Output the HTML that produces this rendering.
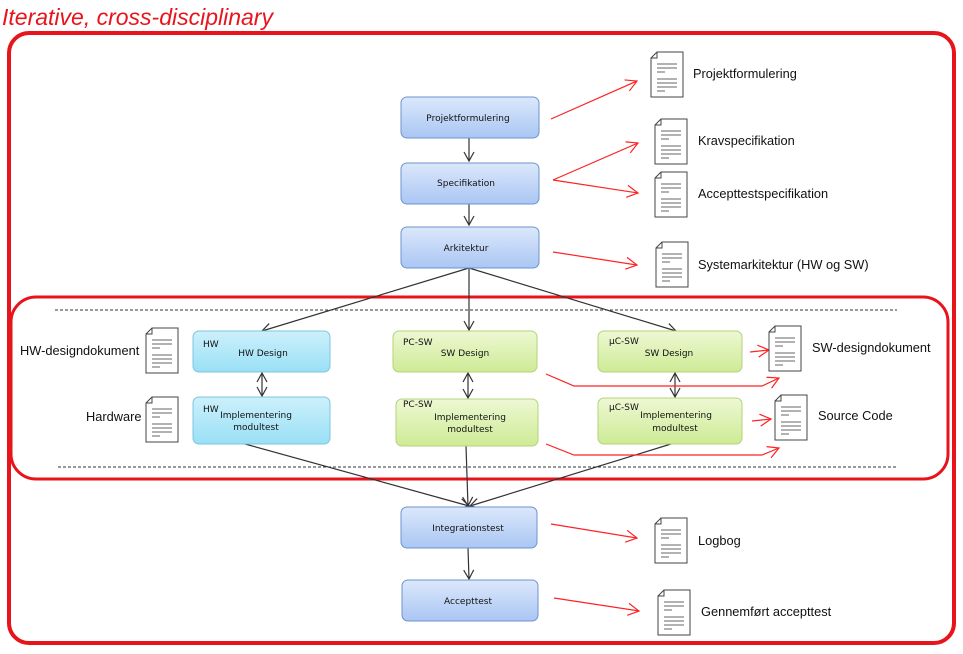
<!DOCTYPE html>
<html><head><meta charset="utf-8"><style>
html,body{margin:0;padding:0;background:#fff;width:963px;height:654px;overflow:hidden}
svg{display:block}
.bt{font-family:"DejaVu Sans","Liberation Sans",sans-serif;font-size:9px;fill:#111;font-weight:500}
.lt{font-family:"Liberation Sans",sans-serif;font-size:12.8px;fill:#111}
</style></head><body>
<svg width="963" height="654" viewBox="0 0 963 654" xmlns="http://www.w3.org/2000/svg">
<defs>
<linearGradient id="gb" x1="0" y1="0" x2="0" y2="1"><stop offset="0" stop-color="#dce8fb"/><stop offset="1" stop-color="#a9c6f3"/></linearGradient>
<linearGradient id="gc" x1="0" y1="0" x2="0" y2="1"><stop offset="0" stop-color="#cdf0fb"/><stop offset="1" stop-color="#99e0f6"/></linearGradient>
<linearGradient id="gg" x1="0" y1="0" x2="0" y2="1"><stop offset="0" stop-color="#eef8d4"/><stop offset="1" stop-color="#cdeb95"/></linearGradient>
<g id="doc">
<path d="M6,0 H32 V45 H0 V6 Z" fill="#fff" stroke="#444" stroke-width="1"/>
<path d="M0,6 H6 V0" fill="none" stroke="#444" stroke-width="1"/>
<g stroke="#666" stroke-width="1">
<line x1="6" y1="12" x2="26" y2="12"/><line x1="6" y1="16" x2="26" y2="16"/><line x1="6" y1="20" x2="14" y2="20"/>
<line x1="6" y1="27" x2="26" y2="27"/><line x1="6" y1="31" x2="26" y2="31"/><line x1="6" y1="35" x2="26" y2="35"/><line x1="6" y1="39" x2="14" y2="39"/>
</g></g>
<marker id="ab" markerWidth="12" markerHeight="12" refX="10" refY="6" orient="auto" markerUnits="userSpaceOnUse"><path d="M1,1 L10,6 L1,11" fill="none" stroke="#333" stroke-width="1.2"/></marker>
<marker id="abs" markerWidth="12" markerHeight="12" refX="2" refY="6" orient="auto" markerUnits="userSpaceOnUse"><path d="M11,1 L2,6 L11,11" fill="none" stroke="#333" stroke-width="1.2"/></marker>
<marker id="ar" markerWidth="14" markerHeight="14" refX="12" refY="7" orient="auto" markerUnits="userSpaceOnUse"><path d="M1,1 L12,7 L1,13" fill="none" stroke="#f22" stroke-width="1.2"/></marker>
</defs>

<text x="2" y="25" font-family="Liberation Sans,sans-serif" font-style="italic" font-size="23" fill="#e8141c">Iterative, cross-disciplinary</text>
<rect x="9" y="33" width="945" height="610" rx="20" fill="none" stroke="#e8141c" stroke-width="4"/>
<rect x="11" y="297" width="937" height="182" rx="25" fill="none" stroke="#e8141c" stroke-width="3"/>
<line x1="55" y1="310" x2="897" y2="310" stroke="#333" stroke-width="1" stroke-dasharray="3,2"/>
<line x1="58" y1="467" x2="898" y2="467" stroke="#333" stroke-width="1" stroke-dasharray="3,2"/>

<g stroke="#333" stroke-width="1.2" fill="none">
<line x1="469" y1="138" x2="469" y2="161" marker-end="url(#ab)"/>
<line x1="469" y1="204" x2="469" y2="225" marker-end="url(#ab)"/>
<line x1="469" y1="268" x2="262" y2="331" marker-end="url(#ab)"/>
<line x1="469" y1="268" x2="469" y2="330" marker-end="url(#ab)"/>
<line x1="469" y1="268" x2="676" y2="331" marker-end="url(#ab)"/>
<line x1="262" y1="373" x2="262" y2="396" marker-start="url(#abs)" marker-end="url(#ab)"/>
<line x1="468" y1="373" x2="468" y2="398" marker-start="url(#abs)" marker-end="url(#ab)"/>
<line x1="675" y1="373" x2="675" y2="397" marker-start="url(#abs)" marker-end="url(#ab)"/>
<line x1="245" y1="444" x2="469" y2="506" marker-end="url(#ab)"/>
<line x1="466" y1="446" x2="468" y2="506" marker-end="url(#ab)"/>
<line x1="671" y1="444" x2="470" y2="506" marker-end="url(#ab)"/>
<line x1="468" y1="548" x2="469" y2="579" marker-end="url(#ab)"/>
</g>

<g stroke="#f22" stroke-width="1.2" fill="none">
<line x1="551" y1="119" x2="637" y2="81" marker-end="url(#ar)"/>
<line x1="553" y1="180" x2="638" y2="143" marker-end="url(#ar)"/>
<line x1="553" y1="180" x2="638" y2="193" marker-end="url(#ar)"/>
<line x1="553" y1="252" x2="637" y2="265" marker-end="url(#ar)"/>
<line x1="750" y1="352" x2="769" y2="350" marker-end="url(#ar)"/>
<polyline points="546,374 574,386 762,386 779,378" marker-end="url(#ar)"/>
<line x1="752" y1="421" x2="771" y2="419" marker-end="url(#ar)"/>
<polyline points="546,444 574,455 762,455 779,448" marker-end="url(#ar)"/>
<line x1="551" y1="524" x2="637" y2="538" marker-end="url(#ar)"/>
<line x1="554" y1="598" x2="639" y2="611" marker-end="url(#ar)"/>
</g>

<g stroke="#6d93cf" stroke-width="1">
<rect x="401" y="97" width="138" height="41" rx="6" fill="url(#gb)"/>
<rect x="401" y="163" width="138" height="41" rx="6" fill="url(#gb)"/>
<rect x="401" y="227" width="138" height="41" rx="6" fill="url(#gb)"/>
<rect x="401" y="507" width="136" height="41" rx="6" fill="url(#gb)"/>
<rect x="402" y="580" width="136" height="41" rx="6" fill="url(#gb)"/>
</g>
<g stroke="#7cc6df" stroke-width="1">
<rect x="193" y="331" width="137" height="41" rx="6" fill="url(#gc)"/>
<rect x="193" y="397" width="137" height="47" rx="6" fill="url(#gc)"/>
</g>
<g stroke="#b5d27a" stroke-width="1">
<rect x="393" y="331" width="144" height="41" rx="6" fill="url(#gg)"/>
<rect x="396" y="399" width="142" height="47" rx="6" fill="url(#gg)"/>
<rect x="598" y="331" width="144" height="41" rx="6" fill="url(#gg)"/>
<rect x="598" y="398" width="144" height="46" rx="6" fill="url(#gg)"/>
</g>
<g class="bt" text-anchor="middle">
<text x="468" y="121">Projektformulering</text>
<text x="466" y="186">Specifikation</text>
<text x="466" y="251">Arkitektur</text>
<text x="468" y="531">Integrationstest</text>
<text x="468" y="604">Accepttest</text>
<text x="263" y="356">HW Design</text>
<text x="256" y="418">Implementering</text>
<text x="256" y="430">modultest</text>
<text x="465" y="356">SW Design</text>
<text x="470" y="420">Implementering</text>
<text x="470" y="432">modultest</text>
<text x="669" y="356">SW Design</text>
<text x="676" y="418">Implementering</text>
<text x="675" y="431">modultest</text>
</g>
<g class="bt" font-size="8.5">
<text x="203" y="347">HW</text>
<text x="203" y="412">HW</text>
<text x="403" y="345">PC-SW</text>
<text x="403" y="407">PC-SW</text>
<text x="609" y="344">µC-SW</text>
<text x="609" y="410">µC-SW</text>
</g>

<use href="#doc" x="651" y="52"/>
<use href="#doc" x="655" y="119"/>
<use href="#doc" x="655" y="172"/>
<use href="#doc" x="656" y="242"/>
<use href="#doc" x="146" y="328"/>
<use href="#doc" x="146" y="397"/>
<use href="#doc" x="769" y="326"/>
<use href="#doc" x="775" y="395"/>
<use href="#doc" x="655" y="518"/>
<use href="#doc" x="658" y="590"/>

<g class="lt">
<text x="693" y="78">Projektformulering</text>
<text x="698" y="145">Kravspecifikation</text>
<text x="698" y="198">Accepttestspecifikation</text>
<text x="698" y="269">Systemarkitektur (HW og SW)</text>
<text x="20" y="355">HW-designdokument</text>
<text x="86" y="421">Hardware</text>
<text x="812" y="352">SW-designdokument</text>
<text x="818" y="420">Source Code</text>
<text x="698" y="545">Logbog</text>
<text x="701" y="616">Gennemført accepttest</text>
</g>
</svg>
</body></html>
